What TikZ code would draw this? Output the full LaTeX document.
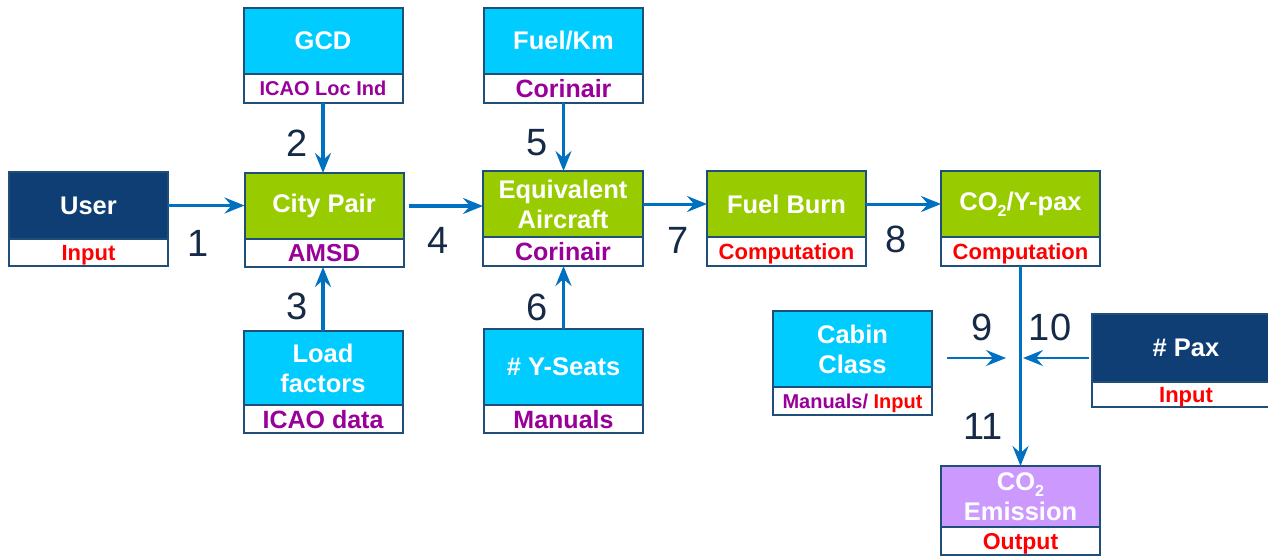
\documentclass[tikz,border=0pt]{standalone}
\usepackage{fontspec}
\setmainfont{Liberation Sans}
\usetikzlibrary{positioning}
\usetikzlibrary{arrows.meta}
\definecolor{navy}{RGB}{14,62,116}
\definecolor{leaf}{RGB}{153,204,0}
\definecolor{sky}{RGB}{0,204,255}
\definecolor{lilac}{RGB}{204,153,255}
\definecolor{edge}{RGB}{31,78,121}
\definecolor{flow}{RGB}{0,112,192}
\definecolor{src}{RGB}{153,0,153}
\definecolor{numcol}{RGB}{22,42,72}
\newcommand{\ttlfont}{\fontsize{25.5}{30}\selectfont\bfseries}
\newcommand{\subfont}[1]{\fontsize{#1}{#1}\selectfont\bfseries}
\newcommand{\numfont}{\fontsize{38}{38}\selectfont}
\newcommand{\sub}[1]{{\fontsize{16}{16}\selectfont\raisebox{-6pt}{#1}}}
\tikzset{
  head/.style={draw=edge, line width=2pt, fill=#1, text=white, font=\ttlfont,
    align=center, minimum width=159pt, inner sep=0pt, outer sep=0pt},
  foot/.style={draw=edge, line width=2pt, fill=white, minimum width=159pt,
    inner sep=0pt, outer sep=0pt, text depth=0pt},
  link/.style={draw=flow, line width=3pt, -{Stealth[length=20pt,width=16pt,inset=7pt]}},
  num/.style={font=\numfont, text=numcol},
}

\begin{document}
\begin{tikzpicture}[x=1pt, y=-1pt]
    \useasboundingbox (0,0) rectangle (1268,555);
    \clip (0,0) rectangle (1268,555);
    % left column
    \node[head=navy, minimum height=67pt] (user) at (88.5,205.5) {User};
    \node[foot, minimum height=27pt, below=0pt of user, font=\subfont{22}, text=red] (user-s) {Input};
    % city pair column
    \node[head=sky, minimum height=66pt] (gcd) at (323,41) {GCD};
    \node[foot, minimum height=29pt, below=0pt of gcd, font=\subfont{20}, text=src] (gcd-s) {ICAO Loc Ind};
    \node[head=leaf, minimum height=66pt] (city) at (324,206) {City Pair};
    \node[foot, minimum height=28pt, below=0pt of city, font=\subfont{24.5}, text=src] (city-s) {AMSD};
    \node[head=sky, minimum height=74pt] (load) at (323,368) {Load\\factors};
    \node[foot, minimum height=28pt, below=0pt of load, font=\subfont{25}, text=src] (load-s) {ICAO data};
    % aircraft column
    \node[head=sky, minimum height=66pt] (fkm) at (563.5,41) {Fuel/Km};
    \node[foot, minimum height=29pt, below=0pt of fkm, font=\subfont{25}, text=src] (fkm-s) {Corinair};
    \node[head=leaf, minimum width=160pt, minimum height=66pt] (equiv) at (563,204) {Equivalent\\Aircraft};
    \node[foot, minimum width=160pt, minimum height=29pt, below=0pt of equiv, font=\subfont{25}, text=src] (equiv-s) {Corinair};
    \node[head=sky, minimum height=76pt] (seats) at (563.5,367) {\# Y-Seats};
    \node[foot, minimum height=28pt, below=0pt of seats, font=\subfont{25}, text=src] (seats-s) {Manuals};
    % computation
    \node[head=leaf, minimum height=66pt] (burn) at (786.5,204) {Fuel Burn};
    \node[foot, minimum height=29pt, below=0pt of burn, font=\subfont{22}, text=red] (burn-s) {Computation};
    \node[head=leaf, minimum height=66pt] (cpax) at (1020.5,204) {CO\sub{2}/Y-pax};
    \node[foot, minimum height=29pt, below=0pt of cpax, font=\subfont{22}, text=red] (cpax-s) {Computation};
    % passengers
    \node[head=sky, minimum height=76pt] (cabin) at (852.5,349) {Cabin\\Class};
    \node[foot, minimum height=28pt, below=0pt of cabin, font=\subfont{20}] (cabin-s) {\textcolor{src}{Manuals/} \textcolor{red}{Input}};
    \node[head=navy, minimum width=188pt, minimum height=68pt] (pax) at (1186,348) {\# Pax};
    \node[foot, minimum width=188pt, minimum height=25pt, below=0pt of pax, font=\subfont{22}, text=red] (pax-s) {Input};
    % output
    \node[head=lilac, minimum height=61pt] (emis) at (1020.5,496.5) {CO\sub{2}\\Emission};
    \node[foot, minimum height=28pt, below=0pt of emis, font=\subfont{23}, text=red] (emis-s) {Output};
    % connectors
    \draw[link] (user.east) -- (user.east -| city.west);
    \draw[link, line width=4pt] (gcd-s.south) -- (gcd-s.south |- city.north);
    \draw[link, line width=4pt] (load.north) -- (load.north |- city-s.south);
    \draw[link, line width=4pt] ([xshift=5pt]city.east) -- (city.east -| equiv.west);
    \draw[link] (fkm-s.south) -- (fkm-s.south |- equiv.north);
    \draw[link] (seats.north) -- (seats.north |- equiv-s.south);
    \draw[link] (equiv.east) -- (burn.west);
    \draw[link] (burn.east) -- (cpax.west);
    \draw[link] (cpax-s.south) -- (emis.north);
    \coordinate (in9) at (947,358);
    \coordinate (at9) at (1006,358);
    \coordinate (in10) at (1089,358);
    \coordinate (at10) at (1023,358);
    \draw[link, line width=2pt] (in9) -- (at9);
    \draw[link, line width=2pt] (in10) -- (at10);
    % step numbers
    \node[num] (n1) at (198,243) {1};
    \node[num] (n2) at (297,143) {2};
    \node[num] (n3) at (297,306) {3};
    \node[num] (n4) at (438,240) {4};
    \node[num] (n5) at (537,143) {5};
    \node[num] (n6) at (537,307) {6};
    \node[num] (n7) at (678,240) {7};
    \node[num] (n8) at (896,239) {8};
    \node[num] (n9) at (982,327) {9};
    \node[num] (n10) at (1050,327) {10};
    \node[num] (n11) at (983,426) {11};
\end{tikzpicture}
\end{document}
